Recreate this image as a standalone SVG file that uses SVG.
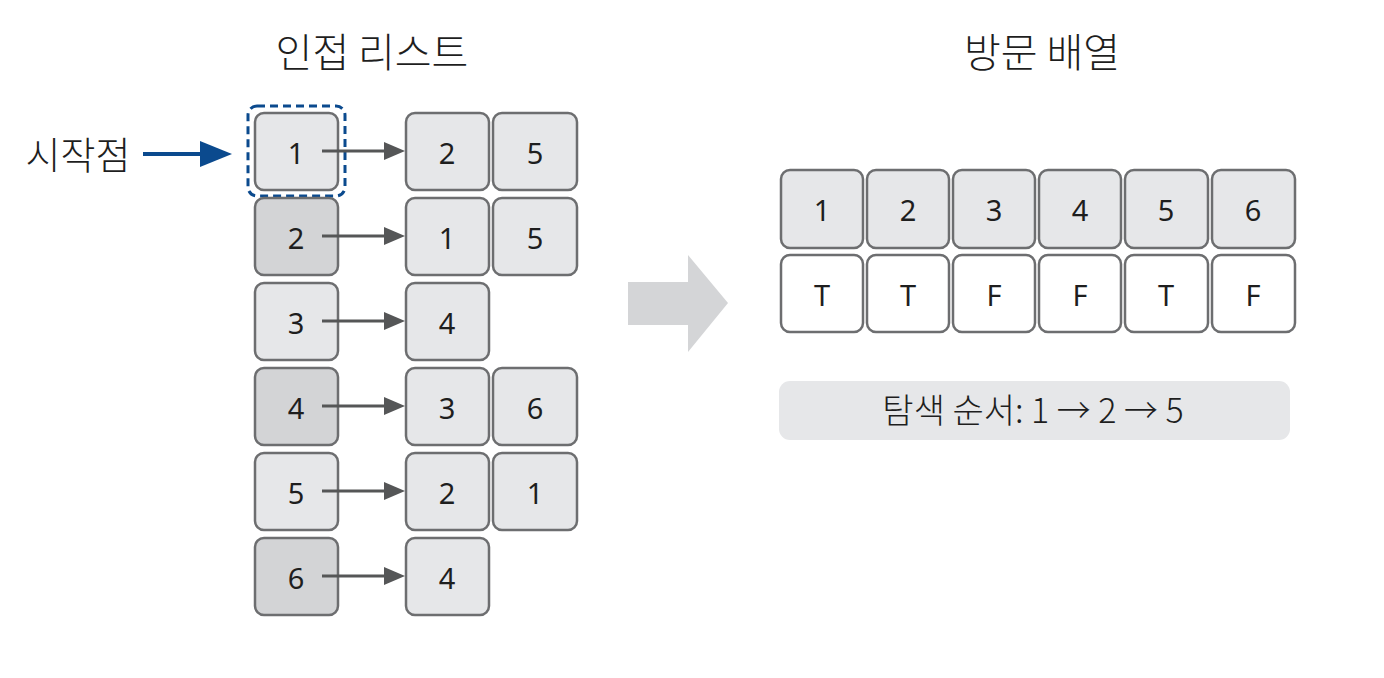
<svg xmlns="http://www.w3.org/2000/svg" width="1384" height="678" viewBox="0 0 1384 678">
<defs>
<style>
.b{fill:#e6e7e9;stroke:#6d6e70;stroke-width:2.5}
.d{fill:#d3d4d6;stroke:#6d6e70;stroke-width:2.5}
.w{fill:#ffffff;stroke:#6d6e70;stroke-width:2.5}
.n{font-family:"Noto Sans","Noto Sans CJK KR",sans-serif;font-size:29px;fill:#1e1e1e;text-anchor:middle;dominant-baseline:central}
.t{font-family:"Noto Sans CJK KR","Noto Sans",sans-serif;font-size:40px;font-weight:300;fill:#1e1e1e;text-anchor:middle}
.c{stroke:#555657;stroke-width:3;fill:none}
</style>
</defs>
<rect width="1384" height="678" fill="#ffffff"/>
<text class="t" x="372" y="67">인접 리스트</text>
<text class="t" x="1042" y="67">방문 배열</text>

<g id="start">
<text x="78" y="169" font-family="Noto Sans CJK KR, sans-serif" font-size="38" font-weight="300" fill="#1e1e1e" text-anchor="middle">시작점</text>
<line x1="143" y1="154" x2="206" y2="154" stroke="#0b4a8e" stroke-width="4"/>
<path d="M200,141 L232,154 L200,167 z" fill="#0b4a8e"/>
<rect x="248" y="106" width="97" height="90" rx="9" fill="none" stroke="#0b4a8e" stroke-width="3" stroke-dasharray="8,5"/>
</g>

<g id="adj-list">
<g id="row1"><rect class="b" x="255" y="113" width="83" height="77" rx="9"/><text class="n" x="296" y="152">1</text>
<rect class="b" x="406" y="113" width="83" height="77" rx="9"/><text class="n" x="447" y="152">2</text>
<rect class="b" x="493" y="113" width="84" height="77" rx="9"/><text class="n" x="535" y="152">5</text></g>
<g id="row2"><rect class="d" x="255" y="198" width="83" height="77" rx="9"/><text class="n" x="296" y="237">2</text>
<rect class="b" x="406" y="198" width="83" height="77" rx="9"/><text class="n" x="447" y="237">1</text>
<rect class="b" x="493" y="198" width="84" height="77" rx="9"/><text class="n" x="535" y="237">5</text></g>
<g id="row3"><rect class="b" x="255" y="283" width="83" height="77" rx="9"/><text class="n" x="296" y="322">3</text>
<rect class="b" x="406" y="283" width="83" height="77" rx="9"/><text class="n" x="447" y="322">4</text></g>
<g id="row4"><rect class="d" x="255" y="368" width="83" height="77" rx="9"/><text class="n" x="296" y="407">4</text>
<rect class="b" x="406" y="368" width="83" height="77" rx="9"/><text class="n" x="447" y="407">3</text>
<rect class="b" x="493" y="368" width="84" height="77" rx="9"/><text class="n" x="535" y="407">6</text></g>
<g id="row5"><rect class="b" x="255" y="453" width="83" height="77" rx="9"/><text class="n" x="296" y="492">5</text>
<rect class="b" x="406" y="453" width="83" height="77" rx="9"/><text class="n" x="447" y="492">2</text>
<rect class="b" x="493" y="453" width="84" height="77" rx="9"/><text class="n" x="535" y="492">1</text></g>
<g id="row6"><rect class="d" x="255" y="538" width="83" height="77" rx="9"/><text class="n" x="296" y="577">6</text>
<rect class="b" x="406" y="538" width="83" height="77" rx="9"/><text class="n" x="447" y="577">4</text></g>
</g>

<g id="connectors">
<line class="c" x1="322" y1="151" x2="390" y2="151"/><path d="M384,142 L405,151 L384,160 z" fill="#555657"/>
<line class="c" x1="322" y1="236" x2="390" y2="236"/><path d="M384,227 L405,236 L384,245 z" fill="#555657"/>
<line class="c" x1="322" y1="321" x2="390" y2="321"/><path d="M384,312 L405,321 L384,330 z" fill="#555657"/>
<line class="c" x1="322" y1="406" x2="390" y2="406"/><path d="M384,397 L405,406 L384,415 z" fill="#555657"/>
<line class="c" x1="322" y1="491" x2="390" y2="491"/><path d="M384,482 L405,491 L384,500 z" fill="#555657"/>
<line class="c" x1="322" y1="576" x2="390" y2="576"/><path d="M384,567 L405,576 L384,585 z" fill="#555657"/>
</g>

<g id="big-arrow">
<path d="M628,282 L688,282 L688,255 L728,303 L688,352 L688,325 L628,325 z" fill="#d4d5d7"/>
</g>

<g id="visited">
<rect class="b" x="781" y="170" width="82" height="78" rx="9"/><text class="n" x="822" y="209">1</text>
<rect class="b" x="867" y="170" width="82" height="78" rx="9"/><text class="n" x="908" y="209">2</text>
<rect class="b" x="953" y="170" width="82" height="78" rx="9"/><text class="n" x="994" y="209">3</text>
<rect class="b" x="1039" y="170" width="82" height="78" rx="9"/><text class="n" x="1080" y="209">4</text>
<rect class="b" x="1125" y="170" width="83" height="78" rx="9"/><text class="n" x="1166" y="209">5</text>
<rect class="b" x="1212" y="170" width="83" height="78" rx="9"/><text class="n" x="1253" y="209">6</text>
<rect class="w" x="781" y="255" width="82" height="77" rx="9"/><text class="n" x="822" y="294">T</text>
<rect class="w" x="867" y="255" width="82" height="77" rx="9"/><text class="n" x="908" y="294">T</text>
<rect class="w" x="953" y="255" width="82" height="77" rx="9"/><text class="n" x="994" y="294">F</text>
<rect class="w" x="1039" y="255" width="82" height="77" rx="9"/><text class="n" x="1080" y="294">F</text>
<rect class="w" x="1125" y="255" width="83" height="77" rx="9"/><text class="n" x="1166" y="294">T</text>
<rect class="w" x="1212" y="255" width="83" height="77" rx="9"/><text class="n" x="1253" y="294">F</text>
</g>

<g id="order">
<rect x="779" y="381" width="511" height="59" rx="11" fill="#e6e7e9"/>
<text x="1033" y="423" font-family="Noto Sans CJK KR, sans-serif" font-size="34" font-weight="300" fill="#1e1e1e" text-anchor="middle">탐색 순서: 1 → 2 → 5</text>
</g>
</svg>
